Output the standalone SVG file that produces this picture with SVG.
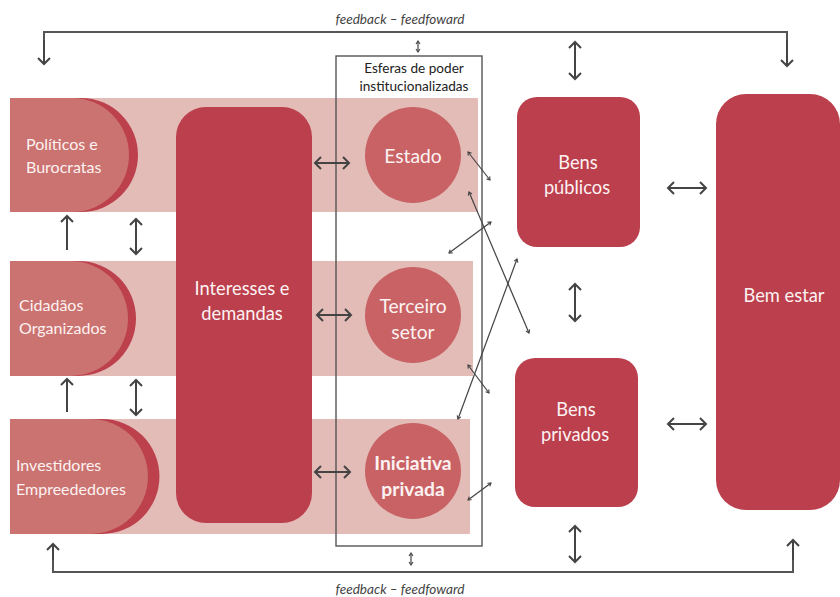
<svg xmlns="http://www.w3.org/2000/svg" width="840" height="597" viewBox="0 0 840 597">
  <defs>
    <style>
      .band { fill: #e3bcb8; }
      .dShadow { fill: #bd404d; }
      .dFace { fill: #cb7370; }
      .block { fill: #bb3f4c; }
      .circle { fill: #c86264; }
      .lbl { font-family: Lato, "Open Sans", sans-serif; fill: #fdf2f2; }
      .lblL { font-size: 16px; }
      .lblM { font-size: 18.3px; text-anchor: middle; }
      .lblC { font-size: 19.3px; text-anchor: middle; }
      .dark { font-family: Lato, "Open Sans", sans-serif; fill: #222; font-size: 13.6px; text-anchor: middle; }
      .fb { font-family: Lato, "Open Sans", sans-serif; fill: #444; font-size: 13.6px; font-style: italic; text-anchor: middle; }
      .frame { fill: none; stroke: #555; stroke-width: 1.4; }
      .loop { fill: none; stroke: #555; stroke-width: 2; }
      .arr { fill: none; stroke: #444; stroke-width: 2; marker-start: url(#head); marker-end: url(#head); }
      .arr1 { fill: none; stroke: #444; stroke-width: 2; marker-end: url(#head); }
      .thin { fill: none; stroke: #444; stroke-width: 1.2; marker-start: url(#tiny); marker-end: url(#tiny); }
    </style>
    <marker id="head" viewBox="-8 -8 10 16" markerWidth="10" markerHeight="16" refX="0" refY="0" orient="auto-start-reverse" markerUnits="userSpaceOnUse">
      <path d="M-6,-6 L0,0 L-6,6" fill="none" stroke="#444" stroke-width="2"/>
    </marker>
    <marker id="tiny" viewBox="-5 -4 6 8" markerWidth="6" markerHeight="8" refX="0" refY="0" orient="auto-start-reverse" markerUnits="userSpaceOnUse">
      <path d="M-3,-2 L0,0 L-3,2" fill="none" stroke="#444" stroke-width="1.1"/>
    </marker>
  </defs>

  <!-- row bands -->
  <rect class="band" x="10" y="98" width="468" height="114"/>
  <rect class="band" x="10" y="261" width="463" height="115"/>
  <rect class="band" x="10" y="419" width="460" height="115"/>

  <!-- actors -->
  <g id="politicos">
    <path class="dShadow" d="M10,98 H81 A57,57 0 0 1 81,212 H10 Z"/>
    <path class="dFace" d="M10,98 H72 A57,57 0 0 1 72,212 H10 Z"/>
    <text class="lbl lblL" x="26" y="150">Políticos e</text>
    <text class="lbl lblL" x="26" y="173">Burocratas</text>
  </g>
  <g id="cidadaos">
    <path class="dShadow" d="M10,261 H78.5 A57.5,57.5 0 0 1 78.5,376 H10 Z"/>
    <path class="dFace" d="M10,261 H70.5 A57.5,57.5 0 0 1 70.5,376 H10 Z"/>
    <text class="lbl lblL" x="19" y="311">Cidadãos</text>
    <text class="lbl lblL" x="19" y="334">Organizados</text>
  </g>
  <g id="investidores">
    <path class="dShadow" d="M10,419 H102 A57.5,57.5 0 0 1 102,534 H10 Z"/>
    <path class="dFace" d="M10,419 H90.5 A57.5,57.5 0 0 1 90.5,534 H10 Z"/>
    <text class="lbl lblL" x="16" y="471">Investidores</text>
    <text class="lbl lblL" x="16" y="495">Empreededores</text>
  </g>

  <g id="interesses">
    <rect class="block" x="176" y="107" width="136" height="416" rx="30"/>
    <text class="lbl lblM" x="242" y="295">Interesses e</text>
    <text class="lbl lblM" x="242" y="320">demandas</text>
  </g>

  <!-- institutional spheres -->
  <g id="esferas">
    <rect class="frame" x="336" y="56" width="146" height="490"/>
    <text class="dark" x="414" y="73">Esferas de poder</text>
    <text class="dark" x="414" y="91">institucionalizadas</text>
  </g>
  <g id="estado">
    <circle class="circle" cx="413" cy="155" r="48"/>
    <text class="lbl lblC" x="413" y="163">Estado</text>
  </g>
  <g id="terceiro">
    <circle class="circle" cx="413" cy="315" r="48"/>
    <text class="lbl lblC" x="413" y="313">Terceiro</text>
    <text class="lbl lblC" x="413" y="339">setor</text>
  </g>
  <g id="iniciativa">
    <circle class="circle" cx="413" cy="471" r="48"/>
    <text class="lbl lblC" x="413" y="470" font-weight="bold">Iniciativa</text>
    <text class="lbl lblC" x="413" y="496" font-weight="bold">privada</text>
  </g>

  <!-- goods and welfare -->
  <g id="bens-publicos">
    <rect class="block" x="517" y="97" width="123" height="150" rx="20"/>
    <text class="lbl lblM" x="578" y="169">Bens</text>
    <text class="lbl lblM" x="577" y="194">públicos</text>
  </g>
  <g id="bens-privados">
    <rect class="block" x="515" y="358" width="123" height="149" rx="20"/>
    <text class="lbl lblM" x="576" y="416">Bens</text>
    <text class="lbl lblM" x="575" y="441">privados</text>
  </g>
  <g id="bem-estar">
    <rect class="block" x="716" y="94" width="124" height="416" rx="30"/>
    <text class="lbl lblM" x="784" y="302">Bem estar</text>
  </g>

  <!-- connectors -->
  <g id="connectors">
    <!-- feedback loops -->
    <path class="loop" d="M44,62 V32 H787 V62"/>
    <path class="arr1" d="M44,40 V64"/>
    <path class="arr1" d="M787,40 V66"/>
    <path class="loop" d="M53,548 V572 H793 V542"/>
    <path class="arr1" d="M53,560 V544"/>
    <path class="arr1" d="M793,560 V540"/>

    <!-- between actor rows -->
    <path class="arr1" d="M67,250 V216"/>
    <path class="arr" d="M136,219 V254"/>
    <path class="arr1" d="M67,412 V379"/>
    <path class="arr" d="M136,380 V415"/>

    <!-- demands to spheres -->
    <path class="arr" d="M315,163 H349"/>
    <path class="arr" d="M317,315 H351"/>
    <path class="arr" d="M315,472 H350"/>

    <!-- spheres frame to loops -->
    <path class="thin" d="M418,41 V52"/>
    <path class="thin" d="M411,553 V565"/>

    <!-- goods -->
    <path class="arr" d="M575,42 V79"/>
    <path class="arr" d="M575,284 V321"/>
    <path class="arr" d="M575,526 V562"/>
    <path class="arr" d="M668,188 H706"/>
    <path class="arr" d="M668,424 H706"/>

    <!-- crossing links spheres / goods -->
    <path class="thin" d="M468,152 L490,180"/>
    <path class="thin" d="M469,192 L529,333"/>
    <path class="thin" d="M449,253 L491,222"/>
    <path class="thin" d="M517,259 L458,419"/>
    <path class="thin" d="M468,365 L489,393"/>
    <path class="thin" d="M468,500 L491,483"/>
  </g>

  <text class="fb" x="400" y="24">feedback – feedfoward</text>
  <text class="fb" x="400" y="594">feedback – feedfoward</text>
</svg>
